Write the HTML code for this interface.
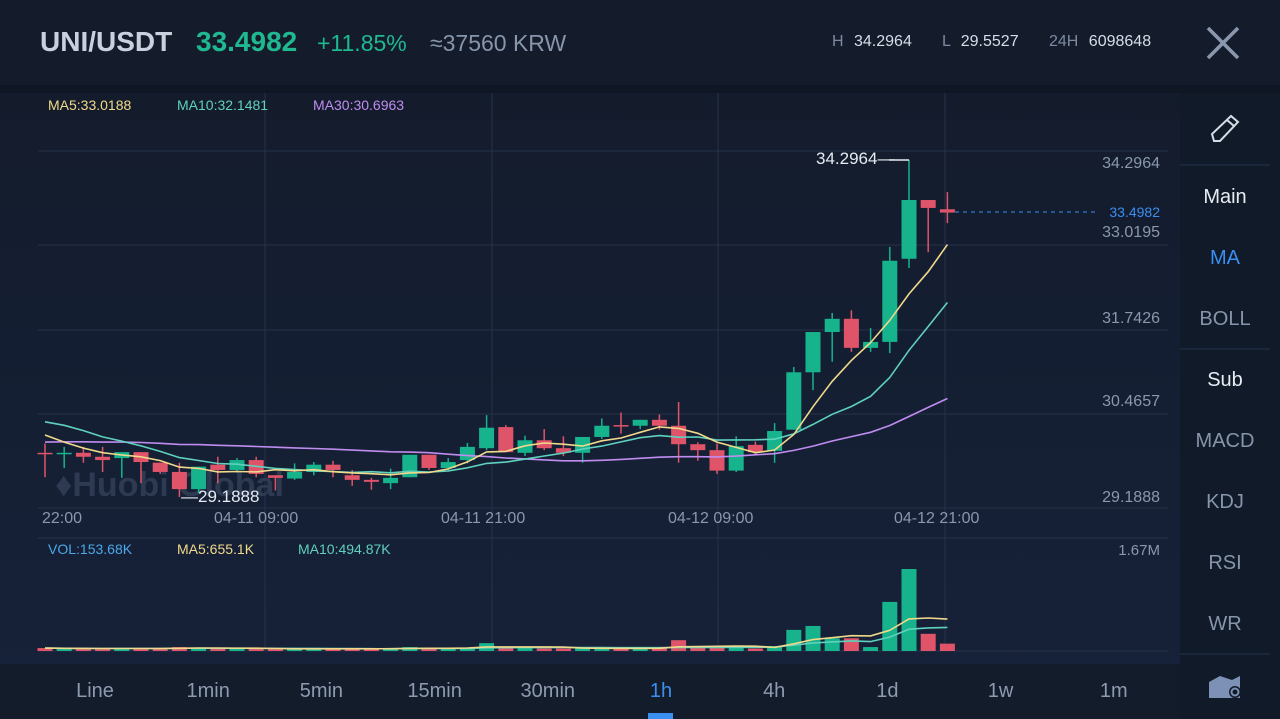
<!DOCTYPE html>
<html><head><meta charset="utf-8">
<style>
body{margin:0;width:1280px;height:719px;overflow:hidden;background:#131c2b;font-family:"Liberation Sans",sans-serif;}
#root{position:relative;width:1280px;height:719px;}
.t{position:absolute;white-space:nowrap;}
</style></head>
<body><div id="root">
<svg id="svg" width="1280" height="719" style="position:absolute;left:0;top:0">
<defs><linearGradient id="bgg" x1="0" y1="0" x2="0" y2="1"><stop offset="0" stop-color="#131b2a"/><stop offset="1" stop-color="#16223a"/></linearGradient></defs>
<rect x="0" y="0" width="1280" height="719" fill="url(#bgg)"/>
<rect x="0" y="0" width="1280" height="85" fill="#141c2b"/>
<rect x="0" y="85" width="1280" height="8" fill="#0f1724"/>
<rect x="1180" y="93" width="100" height="626" fill="#101a28"/>
<rect x="0" y="664" width="1180" height="55" fill="#131c2b"/>
<g id="grid" stroke="#26324a" stroke-width="1"></g>
<text x="55" y="496" font-size="34" font-weight="bold" fill="#33415a" opacity="0.8" font-family="Liberation Sans, sans-serif">♦Huobi Global</text>
<g id="volg"></g><g id="candles"></g><g id="malines" fill="none" stroke-width="1.6"></g>
<line x1="1180" y1="165" x2="1270" y2="165" stroke="#25314a"/>
<line x1="1180" y1="349" x2="1270" y2="349" stroke="#25314a"/>
<line x1="1180" y1="654" x2="1270" y2="654" stroke="#25314a"/>
<g stroke="#8a97ad" stroke-width="3.5"><line x1="1208" y1="28" x2="1238" y2="58"/><line x1="1238" y1="28" x2="1208" y2="58"/></g>
<g fill="none" stroke="#d6dce6" stroke-width="2"><path d="M1214 141 L1212 134 L1231 116 L1238 122 L1220 141 Z"/><line x1="1227" y1="120" x2="1234" y2="126"/></g>
<g><path d="M1209 698 L1209 682 L1220 676 L1232 680 L1240 676 L1240 698 Z" fill="#7d90b6"/><circle cx="1235" cy="692" r="6" fill="#101a28"/><circle cx="1235" cy="692" r="3.5" fill="none" stroke="#7d90b6" stroke-width="2"/></g>
<rect x="648" y="713" width="25" height="6" fill="#3b8ef0"/>
<line x1="955" y1="212" x2="1095" y2="212" stroke="#3b8ef0" stroke-dasharray="4,4"/>
</svg>

<div class="t" style="left:40px;top:26px;font-size:28px;font-weight:bold;color:#c9d1df">UNI/USDT</div>
<div class="t" style="left:196px;top:26px;font-size:28px;font-weight:bold;color:#1fb891">33.4982</div>
<div class="t" style="left:317px;top:30px;font-size:23px;color:#1fb891">+11.85%</div>
<div class="t" style="left:430px;top:30px;font-size:23px;color:#8795ab">≈37560 KRW</div>
<div class="t" style="left:832px;top:33px;font-size:16px;color:#7d8aa1">H <span style="color:#d7dde8;margin-left:6px">34.2964</span></div>
<div class="t" style="left:942px;top:33px;font-size:16px;color:#7d8aa1">L <span style="color:#d7dde8;margin-left:6px">29.5527</span></div>
<div class="t" style="left:1049px;top:33px;font-size:16px;color:#7d8aa1">24H <span style="color:#d7dde8;margin-left:6px">6098648</span></div>

<div class="t" style="left:48px;top:97px;font-size:14px;color:#f1d98b">MA5:33.0188</div>
<div class="t" style="left:177px;top:97px;font-size:14px;color:#5fd1bd">MA10:32.1481</div>
<div class="t" style="left:313px;top:97px;font-size:14px;color:#c08cf0">MA30:30.6963</div>
<div class="t" style="left:48px;top:541px;font-size:14px;color:#4aa8e8">VOL:153.68K</div>
<div class="t" style="left:177px;top:541px;font-size:14px;color:#f1d98b">MA5:655.1K</div>
<div class="t" style="left:298px;top:541px;font-size:14px;color:#5fd1bd">MA10:494.87K</div>

<div class="t" style="left:816px;top:149px;font-size:17px;color:#e6ebf2">34.2964—</div>
<div class="t" style="left:181px;top:487px;font-size:17px;color:#e6ebf2">—29.1888</div>

<div id="ylabels"></div>
<div class="t" style="right:120px;top:204px;font-size:14px;color:#3b8ef0">33.4982</div>
<div class="t" style="right:120px;top:542px;font-size:15px;color:#8a97ad">1.67M</div>
<div id="xlabels"></div>

<div class="t" style="left:1180px;width:90px;text-align:center;top:186px;font-size:20px;color:#e8edf4">Main</div>
<div class="t" style="left:1180px;width:90px;text-align:center;top:247px;font-size:20px;color:#3b8ef0">MA</div>
<div class="t" style="left:1180px;width:90px;text-align:center;top:308px;font-size:20px;color:#8795ab">BOLL</div>
<div class="t" style="left:1180px;width:90px;text-align:center;top:369px;font-size:20px;color:#e8edf4">Sub</div>
<div class="t" style="left:1180px;width:90px;text-align:center;top:430px;font-size:20px;color:#8795ab">MACD</div>
<div class="t" style="left:1180px;width:90px;text-align:center;top:491px;font-size:20px;color:#8795ab">KDJ</div>
<div class="t" style="left:1180px;width:90px;text-align:center;top:552px;font-size:20px;color:#8795ab">RSI</div>
<div class="t" style="left:1180px;width:90px;text-align:center;top:613px;font-size:20px;color:#8795ab">WR</div>
<div id="intervals"></div>
</div>
<script>
const closes = [29.85,29.86,29.80,29.75,29.87,29.72,29.57,29.31,29.65,29.60,29.75,29.54,29.48,29.57,29.68,29.60,29.45,29.42,29.48,29.83,29.63,29.72,29.95,30.24,29.87,30.05,29.93,29.86,30.10,30.27,30.26,30.36,30.27,29.99,29.90,29.59,29.96,29.87,30.19,31.08,31.69,31.89,31.45,31.54,32.77,33.69,33.57,33.50];
const opens = [29.86,29.85,29.86,29.80,29.78,29.87,29.71,29.57,29.31,29.68,29.60,29.75,29.52,29.47,29.57,29.68,29.52,29.45,29.40,29.49,29.83,29.63,29.75,29.93,30.25,29.86,30.05,29.93,29.86,30.10,30.28,30.27,30.36,30.27,29.99,29.90,29.59,29.98,29.89,30.21,31.08,31.69,31.89,31.45,31.54,32.80,33.69,33.55];
const highs = [30.00,29.95,29.95,29.95,29.87,29.87,29.71,29.71,29.65,29.80,29.78,29.80,29.52,29.70,29.72,29.74,29.60,29.48,29.62,29.83,29.83,29.78,30.01,30.43,30.28,30.12,30.22,30.11,30.10,30.38,30.47,30.36,30.44,30.63,30.02,30.00,30.11,30.03,30.31,31.16,31.69,31.98,32.02,31.75,32.98,34.30,33.69,33.81];
const lows = [29.49,29.63,29.71,29.57,29.48,29.40,29.54,29.19,29.25,29.40,29.56,29.49,29.29,29.45,29.52,29.49,29.36,29.30,29.31,29.49,29.60,29.60,29.70,29.90,29.87,29.81,29.90,29.81,29.71,30.07,30.15,30.22,30.21,29.71,29.74,29.54,29.57,29.83,29.71,30.21,30.81,31.24,31.39,31.39,31.37,32.66,32.90,33.34];
const priorCloses = [29.7,29.8,29.9,29.85,29.9,29.95,29.8,29.75,29.9,30.0,29.85,29.8,29.9,29.95,29.9,29.85,29.8,29.9,29.95,29.9,30.4,30.6,30.7,30.5,30.45,30.4,30.25,30.1,30.05];
const volumes = [0.06,0.05,0.05,0.04,0.05,0.06,0.05,0.08,0.07,0.05,0.04,0.05,0.04,0.04,0.05,0.04,0.05,0.04,0.05,0.08,0.06,0.05,0.07,0.16,0.08,0.06,0.05,0.05,0.06,0.05,0.05,0.05,0.06,0.22,0.07,0.08,0.07,0.05,0.10,0.43,0.51,0.26,0.26,0.08,1.00,1.67,0.35,0.15];
const priceTicks = ["34.2964","33.0195","31.7426","30.4657","29.1888"];
const timeLabels = ["22:00","04-11 09:00","04-11 21:00","04-12 09:00","04-12 21:00"];
const intervals = ["Line","1min","5min","15min","30min","1h","4h","1d","1w","1m"];

const NS="http://www.w3.org/2000/svg";
const yP = p => 160 + (34.2964 - p) * 66;
const xC = i => 45 + i * 19.2;
const yV = v => 651 - v / 1.67 * 82;
function mk(tag, attrs, parent){const e=document.createElementNS(NS,tag);for(const k in attrs)e.setAttribute(k,attrs[k]);parent.appendChild(e);return e;}
const grid=document.getElementById('grid');
[151,245,330,414,508,538,651].forEach(y=>{const l=mk('line',{x1:38,x2:1168,y1:y,y2:y},grid);

});
[265,492,718,945].forEach(x=>{const l=mk('line',{x1:x,x2:x,y1:93,y2:651},grid);

});
const cg=document.getElementById('candles');
closes.forEach((c,i)=>{const o=opens[i];const up=c>=o;const col=up?'#16b38d':'#df5468';const x=xC(i);
const w=mk('line',{x1:x,x2:x,y1:yP(highs[i]),y2:yP(lows[i]),stroke:col,'stroke-width':1.5},cg);


const t=Math.min(yP(o),yP(c));const h=Math.max(1.5,Math.abs(yP(o)-yP(c)));
const b=mk('rect',{x:x-7.5,y:t,width:15,height:h,fill:col},cg);


const vb=mk('rect',{x:x-7.5,y:yV(volumes[i]),width:15,height:651-yV(volumes[i]),fill:col},document.getElementById('volg'));

});
const all=priorCloses.concat(closes);const off=priorCloses.length;
function maPts(n){return closes.map((_,i)=>{let s=0;const j=i+off;for(let k=j-n+1;k<=j;k++)s+=all[k];return xC(i).toFixed(1)+','+yP(s/n).toFixed(1);}).join(' ');}
function vmaPts(n){return volumes.map((_,i)=>{let s=0,c=0;for(let k=Math.max(0,i-n+1);k<=i;k++){s+=volumes[k];c++;}return xC(i).toFixed(1)+','+yV(s/c).toFixed(1);}).join(' ');}
const mg=document.getElementById('malines');
[[30,'#c08cf0','ma30-line'],[10,'#5fd1bd','ma10-line'],[5,'#f1d98b','ma5-line']].forEach(([n,col,name])=>{const p=mk('polyline',{points:maPts(n),stroke:col},mg);

});
[[10,'#5fd1bd','vol-ma10-line'],[5,'#f1d98b','vol-ma5-line']].forEach(([n,col,name])=>{const p=mk('polyline',{points:vmaPts(n),stroke:col},mg);

});
mk('line',{x1:xC(45),x2:xC(45)-20,y1:160,y2:160,stroke:'#e6ebf2'},mg);
const yl=document.getElementById('ylabels');
const tickY=[164,233,319,402,498];
priceTicks.forEach((t,i)=>{const d=document.createElement('div');d.className='t';d.style.cssText='right:120px;top:'+(tickY[i]-9)+'px;font-size:16px;color:#8a97ad';d.textContent=t;


yl.appendChild(d);});
const xl=document.getElementById('xlabels');
const tx=[42,214,441,668,894];
timeLabels.forEach((t,i)=>{const d=document.createElement('div');d.className='t';d.style.cssText='left:'+tx[i]+'px;top:510px;font-size:16px;color:#8a97ad';d.textContent=t;


xl.appendChild(d);});
const iv=document.getElementById('intervals');
intervals.forEach((t,i)=>{const d=document.createElement('div');d.className='t';d.style.cssText='left:'+(95+113.2*i-50)+'px;width:100px;text-align:center;top:680px;font-size:20px;color:'+(t==='1h'?'#3b8ef0':'#8d9ab0');d.textContent=t;


iv.appendChild(d);});
</script>
</body></html>
